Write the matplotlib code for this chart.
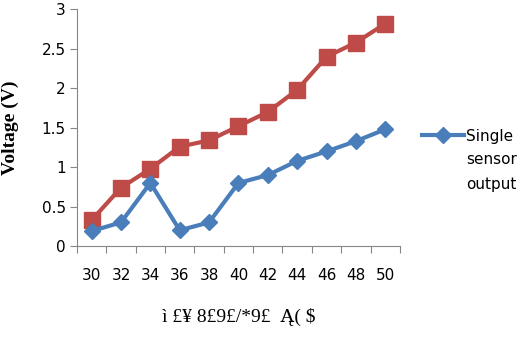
import matplotlib
matplotlib.use("Agg")
import matplotlib.pyplot as plt
import numpy as np

categories = ['30', '32', '34', '36', '38', '40', '42', '44', '46', '48', '50']
single_sensor = [0.19, 0.30, 0.80, 0.20, 0.30, 0.80, 0.90, 1.08, 1.20, 1.33, 1.48]
combined = [0.33, 0.74, 0.98, 1.26, 1.34, 1.52, 1.70, 1.98, 2.40, 2.58, 2.82]
yticks = [0, 0.5, 1, 1.5, 2, 2.5, 3]
ytick_labels = ['0', '0.5', '1', '1.5', '2', '2.5', '3']

blue = '#4A7EBB'
red = '#BE4B48'
axis_gray = '#868686'

fig = plt.figure(figsize=(5.32, 3.38), dpi=100)
ax = fig.add_axes([0.1447, 0.272, 0.607, 0.700])

x = np.arange(len(categories))
ax.plot(x, single_sensor, color=blue, lw=3, marker='D', ms=8.5,
        markeredgecolor=blue, label='Single', zorder=3)
ax.plot(x, combined, color=red, lw=3, marker='s', ms=11,
        markeredgecolor=red, zorder=2)

ax.set_xlim(-0.5, len(categories) - 0.5)
ax.set_ylim(0, 3)
ax.set_yticks(yticks)
ax.set_yticklabels(ytick_labels, fontsize=11)

# category axis: ticks between categories, labels centred
ax.set_xticks(np.arange(-0.5, len(categories), 1.0))
ax.set_xticklabels([])
ax.set_xticks(x, minor=True)
ax.set_xticklabels(categories, minor=True, fontsize=11)
ax.tick_params(axis='x', which='minor', length=0, pad=16)
ax.tick_params(axis='x', which='major', length=5, color=axis_gray, direction='out')
ax.tick_params(axis='y', length=5, color=axis_gray, direction='out', pad=3)

for s in ['top', 'right']:
    ax.spines[s].set_visible(False)
for s in ['left', 'bottom']:
    ax.spines[s].set_color(axis_gray)

ax.set_ylabel('Voltage (V)', fontfamily='Liberation Serif', fontweight='bold',
              fontsize=14)
ax.yaxis.set_label_coords(-0.178, 0.5)
ax.set_xlabel('ì £¥ 8£9£/*9£  Ą( $', fontfamily='Liberation Serif',
              fontsize=14, labelpad=18)

leg = fig.legend(loc='center left', bbox_to_anchor=(0.794, 1 - 136 / 338), frameon=False,
                 fontsize=11, handlelength=2.7, handletextpad=0.15, borderpad=0,
                 borderaxespad=0)
fig.text(466 / 532, 1 - 160 / 338, 'sensor', fontsize=11, va='center')
fig.text(466 / 532, 1 - 184 / 338, 'output', fontsize=11, va='center')

fig.savefig('out.png', dpi=100)
